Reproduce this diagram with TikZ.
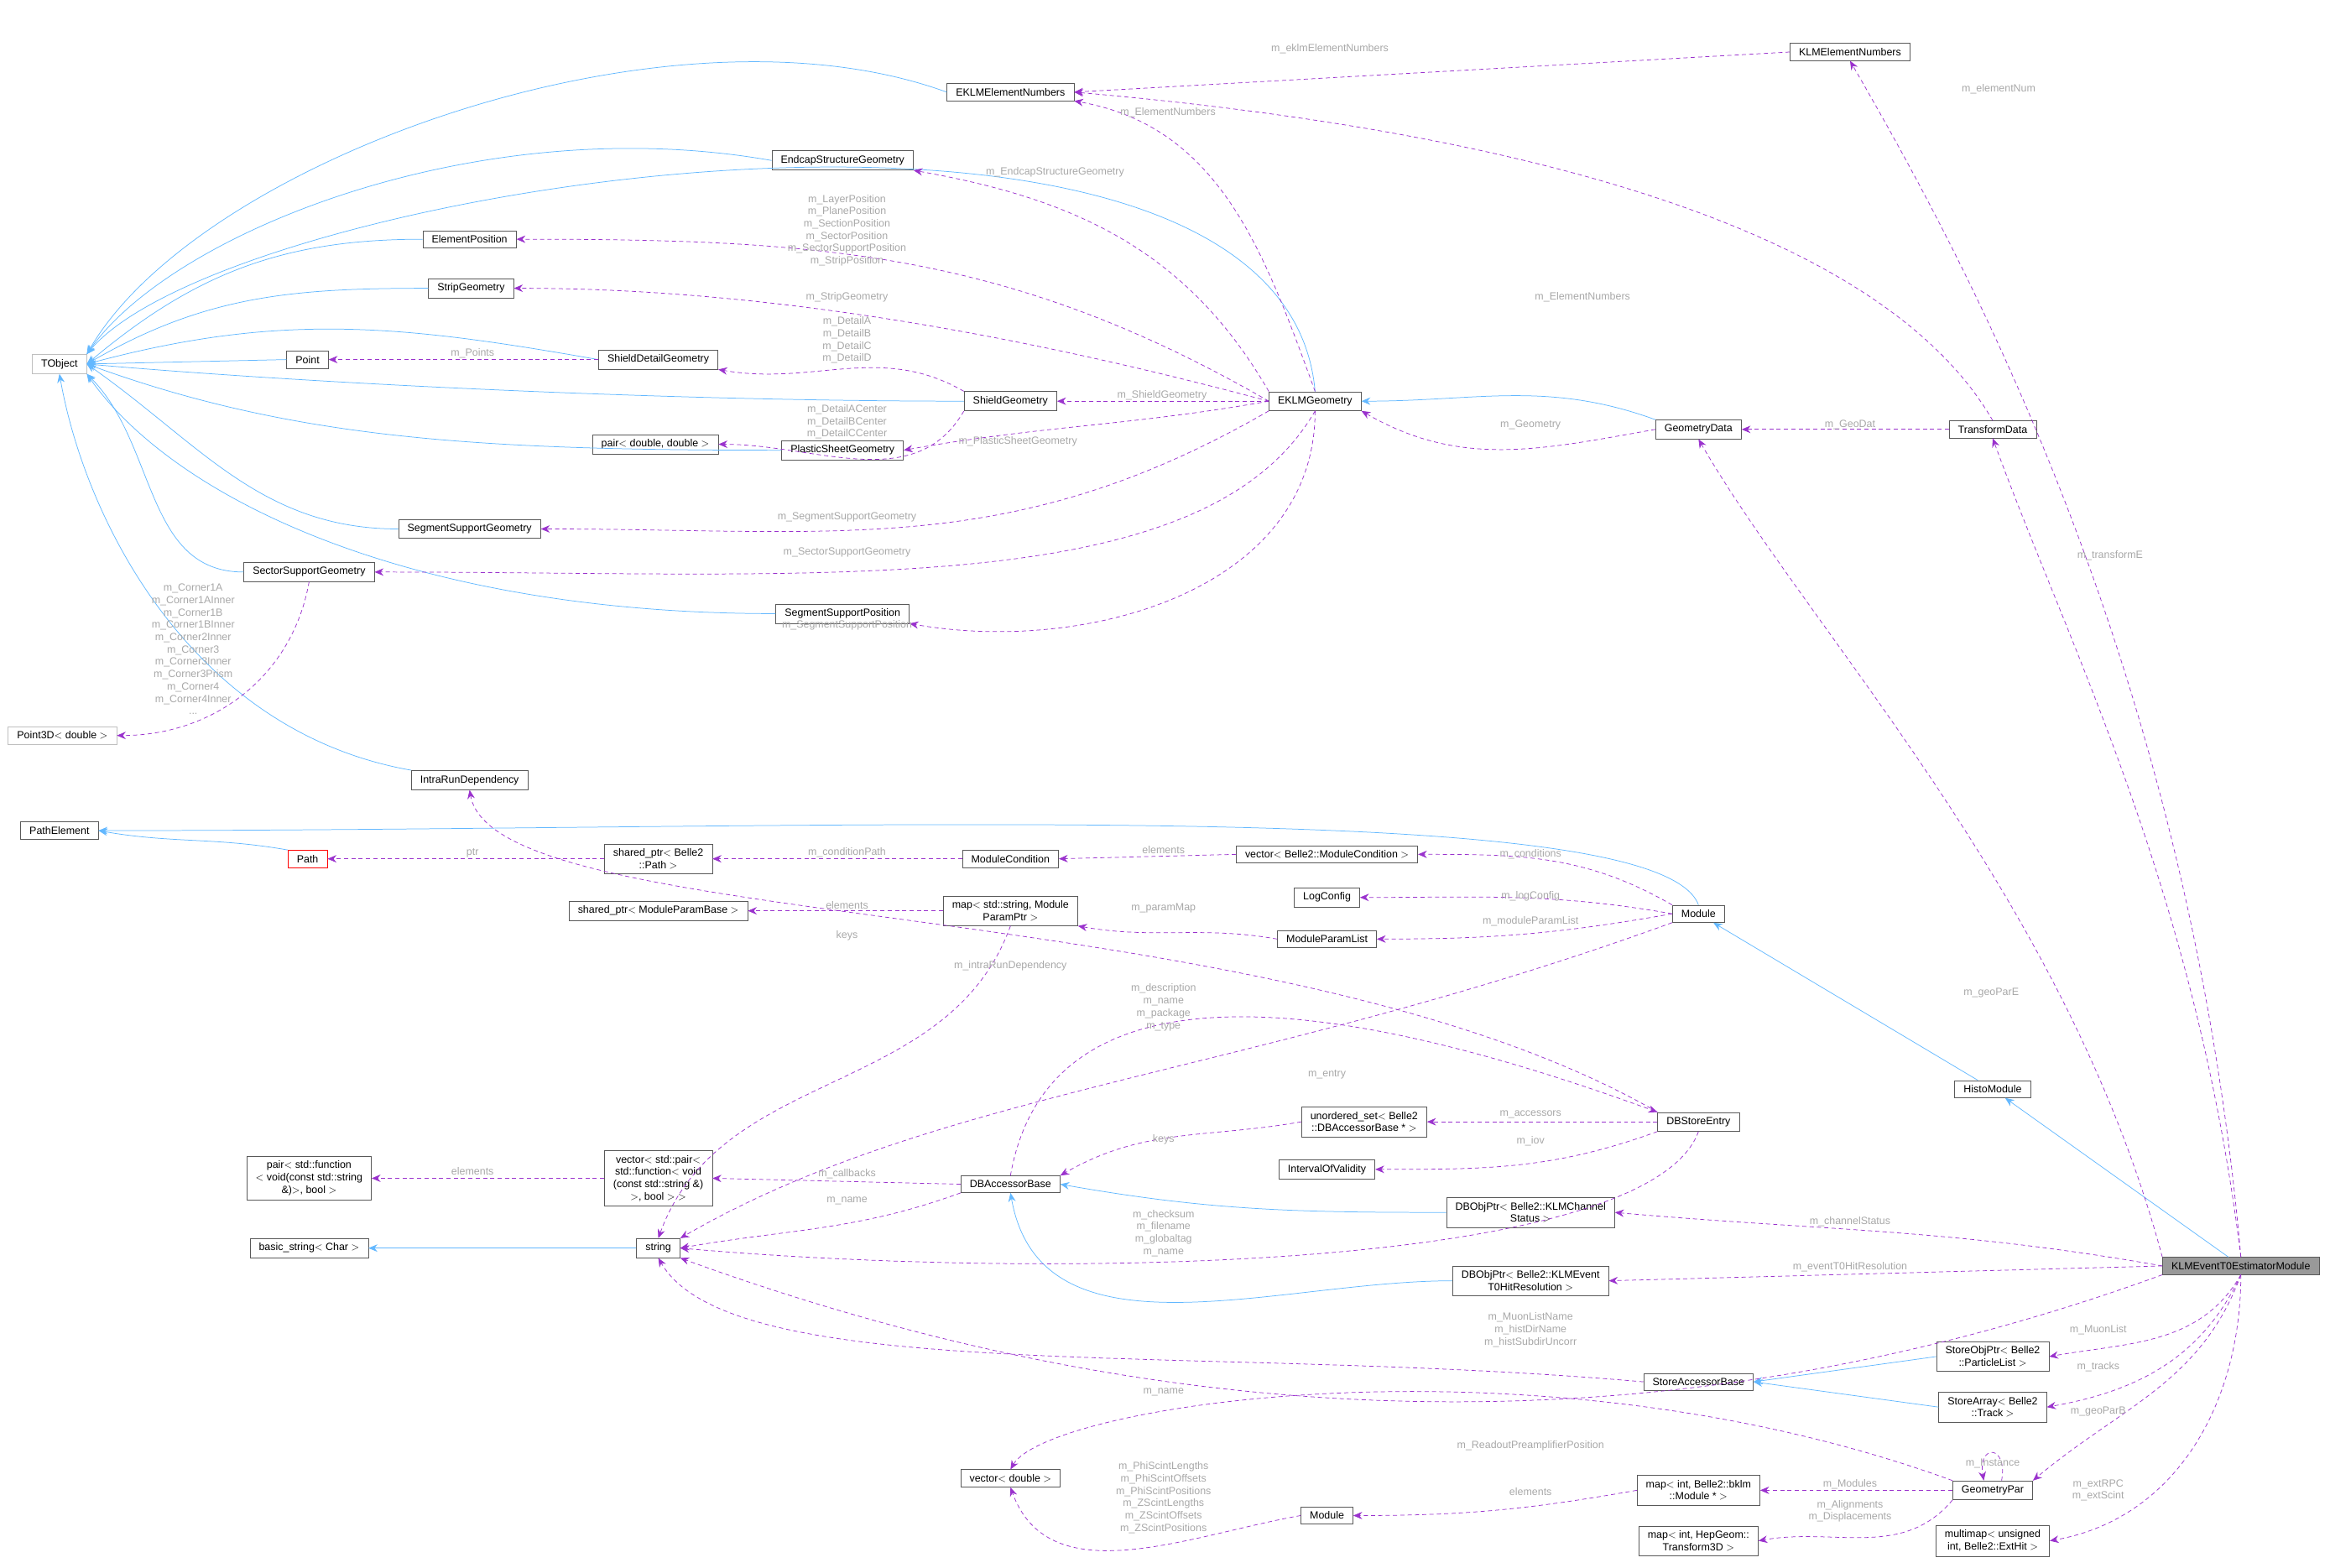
\documentclass[tikz,border=0pt]{standalone}
\usepackage{fontspec}
\setmainfont{Liberation Sans}
\usetikzlibrary{arrows.meta}
\definecolor{inhblue}{HTML}{63B8FF}
\definecolor{usdpurple}{HTML}{9A32CD}
\definecolor{lblgray}{HTML}{A8A8A8}
\tikzset{
  cls/.style={draw=black!65, fill=white, line width=0.5pt, inner xsep=0.3cm, inner ysep=0.16cm,
    align=center, font=\fontsize{10}{11.8}\selectfont},
  pale/.style={cls, draw=black!25},
  inh/.style={draw=inhblue, line width=0.6pt, -{Stealth[length=0.3cm,width=0.25cm,fill=inhblue]}},
  usd/.style={draw=usdpurple, line width=0.6pt, dash pattern=on 4pt off 3pt,
    -{Stealth[length=0.3cm,width=0.25cm,fill=usdpurple]}},
  lbl/.style={text=lblgray, align=center, inner sep=0pt, font=\fontsize{10}{11.8}\selectfont},
}
\begin{document}
\begin{tikzpicture}[x=0.05cm,y=0.05cm]
  \useasboundingbox (0,0) rectangle (1568,-1055.3);
  % classes
  \node[pale] (tob) at (40,-245) {TObject};
  \node[cls] (ken) at (1245,-35) {KLMElementNumbers};
  \node[cls] (ekn) at (680,-62) {EKLMElementNumbers};
  \node[cls] (esg) at (567,-108) {EndcapStructureGeometry};
  \node[cls] (elp) at (316,-161) {ElementPosition};
  \node[cls] (stg) at (317,-194) {StripGeometry};
  \node[cls] (pnt) at (207,-242) {Point};
  \node[cls] (sdg) at (443,-242) {ShieldDetailGeometry};
  \node[cls] (shg) at (680,-270) {ShieldGeometry};
  \node[cls] (ekg) at (885,-270) {EKLMGeometry};
  \node[cls] (par) at (441,-299) {pair$<$ double, double $>$};
  \node[cls] (psg) at (567,-303) {PlasticSheetGeometry};
  \node[cls] (ssg) at (316,-356) {SegmentSupportGeometry};
  \node[cls] (scg) at (208,-385) {SectorSupportGeometry};
  \node[cls] (ssp) at (567,-413) {SegmentSupportPosition};
  \node[cls] (gdt) at (1143,-289) {GeometryData};
  \node[cls] (tdt) at (1341,-289) {TransformData};
  \node[pale] (p3d) at (42,-495) {Point3D$<$ double $>$};
  \node[cls] (ird) at (316,-525) {IntraRunDependency};
  \node[cls] (pel) at (40,-559) {PathElement};
  \node[cls, draw=red] (pth) at (207,-578) {Path};
  \node[cls] (spp) at (443,-578) {shared\_ptr$<$ Belle2\\::Path $>$};
  \node[cls] (mcn) at (680,-578) {ModuleCondition};
  \node[cls] (vmc) at (893,-575) {vector$<$ Belle2::ModuleCondition $>$};
  \node[cls] (lcf) at (893,-604) {LogConfig};
  \node[cls] (spb) at (443,-613) {shared\_ptr$<$ ModuleParamBase $>$};
  \node[cls] (mpp) at (680,-613) {map$<$ std::string, Module\\ParamPtr $>$};
  \node[cls] (mod) at (1143,-615) {Module};
  \node[cls] (mpl) at (893,-632) {ModuleParamList};
  \node[cls] (hmo) at (1341,-733) {HistoModule};
  \node[cls] (uos) at (918,-755) {unordered\_set$<$ Belle2\\::DBAccessorBase * $>$};
  \node[cls] (dse) at (1143,-755) {DBStoreEntry};
  \node[cls] (iov) at (893,-787) {IntervalOfValidity};
  \node[cls] (pfn) at (208,-793) {pair$<$ std::function\\$<$ void(const std::string\\\&)$>$, bool $>$};
  \node[cls] (vpf) at (443,-793) {vector$<$ std::pair$<$\\std::function$<$ void\\(const std::string \&)\\$>$, bool $>$ $>$};
  \node[cls] (dab) at (680,-797) {DBAccessorBase};
  \node[cls] (dcs) at (1030,-816) {DBObjPtr$<$ Belle2::KLMChannel\\Status $>$};
  \node[cls] (bst) at (208,-840) {basic\_string$<$ Char $>$};
  \node[cls] (str) at (443,-840) {string};
  \node[cls, fill=black!40] (klm) at (1508,-852) {KLMEventT0EstimatorModule};
  \node[cls] (dtr) at (1030,-862) {DBObjPtr$<$ Belle2::KLMEvent\\T0HitResolution $>$};
  \node[cls] (sop) at (1341,-913) {StoreObjPtr$<$ Belle2\\::ParticleList $>$};
  \node[cls] (sab) at (1143,-930) {StoreAccessorBase};
  \node[cls] (sar) at (1341,-947) {StoreArray$<$ Belle2\\::Track $>$};
  \node[cls] (vdb) at (680,-995) {vector$<$ double $>$};
  \node[cls] (gpr) at (1341,-1003) {GeometryPar};
  \node[cls] (mbk) at (1143,-1003) {map$<$ int, Belle2::bklm\\::Module * $>$};
  \node[cls] (bmd) at (893,-1020) {Module};
  \node[cls] (mtr) at (1143,-1037) {map$<$ int, HepGeom::\\Transform3D $>$};
  \node[cls] (mmp) at (1341,-1037) {multimap$<$ unsigned\\int, Belle2::ExtHit $>$};
  % inheritance
  \draw[inh] (ekn.west) .. controls +(160:200) and +(60:150) .. (tob.north east);
  \draw[inh] (esg.west) .. controls +(170:200) and +(55:100) .. (tob.north east);
  \draw[inh] (ekg.north) .. controls +(95:250) and +(50:150) .. (tob.north east);
  \draw[inh] (elp.west) to[out=180,in=40] (tob.east);
  \draw[inh] (stg.west) to[out=180,in=30] (tob.east);
  \draw[inh] (sdg.west) to[out=170,in=15] (tob.east);
  \draw[inh] (pnt.west) -- (tob.east);
  \draw[inh] (shg.west) .. controls +(180:200) and +(-5:150) .. (tob.east);
  \draw[inh] (psg.west) .. controls +(180:200) and +(-20:150) .. (tob.east);
  \draw[inh] (ssg.west) to[out=180,in=-35] (tob.east);
  \draw[inh] (scg.west) to[out=180,in=-45] (tob.south east);
  \draw[inh] (ssp.west) .. controls +(180:250) and +(-55:100) .. (tob.south east);
  \draw[inh] (ird.north west) .. controls +(170:150) and +(-80:100) .. (tob.south);
  \draw[inh] (gdt.north west) to[out=160,in=0] (ekg.east);
  \draw[inh] (mod.north) .. controls +(110:80) and +(0:500) .. (pel.east);
  \draw[inh] (pth.north west) to[out=170,in=-10] (pel.east);
  \draw[inh] (hmo) -- (mod);
  \draw[inh] (klm) -- (hmo);
  \draw[inh] (dcs.west) to[out=180,in=-10] (dab.east);
  \draw[inh] (dtr.west) to[out=180,in=-80] (dab.south);
  \draw[inh] (str) -- (bst);
  \draw[inh] (sop.west) -- (sab.east);
  \draw[inh] (sar.west) -- (sab.east);
  % usage
  \draw[usd] (ken.west) -- (ekn.east);
  \draw[usd] (ekg.north) to[out=110,in=-10] (ekn.south east);
  \draw[usd] (tdt.north) .. controls +(120:150) and +(-5:300) .. (ekn.east);
  \draw[usd] (ekg.north west) to[out=120,in=-10] (esg.south east);
  \draw[usd] (ekg.west) to[out=150,in=0] (elp.east);
  \draw[usd] (ekg.west) .. controls +(165:200) and +(0:150) .. (stg.east);
  \draw[usd] (sdg.west) -- (pnt.east);
  \draw[usd] (shg.north west) to[out=150,in=-10] (sdg.south east);
  \draw[usd] (ekg.west) -- (shg.east);
  \draw[usd] (shg.south west) to[out=-120,in=0] (par.east);
  \draw[usd] (ekg.west) to[out=-170,in=10] (psg.east);
  \draw[usd] (ekg.south west) .. controls +(-150:200) and +(0:200) .. (ssg.east);
  \draw[usd] (ekg.south) .. controls +(-120:150) and +(0:300) .. (scg.east);
  \draw[usd] (ekg.south) to[out=-90,in=-10] (ssp.south east);
  \draw[usd] (gdt.west) to[out=-170,in=-30] (ekg.south east);
  \draw[usd] (tdt.west) -- (gdt.east);
  \draw[usd] (scg.south) to[out=-100,in=0] (p3d.east);
  \draw[usd] (klm.north) .. controls +(95:400) and +(-60:150) .. (ken.south);
  \draw[usd] (klm.north) .. controls +(97:250) and +(-70:150) .. (tdt.south);
  \draw[usd] (klm.north west) .. controls +(105:250) and +(-60:150) .. (gdt.south);
  \draw[usd] (spp.west) -- (pth.east);
  \draw[usd] (mcn.west) -- (spp.east);
  \draw[usd] (vmc.west) -- (mcn.east);
  \draw[usd] (mod.north west) to[out=150,in=0] (vmc.east);
  \draw[usd] (mod.west) to[out=170,in=0] (lcf.east);
  \draw[usd] (mod.west) to[out=190,in=0] (mpl.east);
  \draw[usd] (mpl.west) to[out=170,in=-10] (mpp.south east);
  \draw[usd] (mpp.west) -- (spb.east);
  \draw[usd] (mpp.south) to[out=-110,in=70] (str.north);
  \draw[usd] (mod.south west) .. controls +(-160:300) and +(30:200) .. (str.north east);
  \draw[usd] (dse.north west) .. controls +(150:300) and +(-80:100) .. (ird.south);
  \draw[usd] (dab.north) to[out=80,in=160] (dse.north west);
  \draw[usd] (dse.west) -- (uos.east);
  \draw[usd] (uos.west) to[out=-170,in=30] (dab.north east);
  \draw[usd] (dse.south west) to[out=-160,in=0] (iov.east);
  \draw[usd] (dse.south) .. controls +(-110:100) and +(-5:250) .. (str.east);
  \draw[usd] (dab.west) -- (vpf.east);
  \draw[usd] (dab.south west) to[out=-160,in=10] (str.east);
  \draw[usd] (vpf.west) -- (pfn.east);
  \draw[usd] (klm.west) to[out=170,in=-5] (dcs.east);
  \draw[usd] (klm.west) -- (dtr.east);
  \draw[usd] (klm.south west) .. controls +(-160:400) and +(-20:300) .. (str.south east);
  \draw[usd] (sab.west) .. controls +(175:300) and +(-60:100) .. (str.south);
  \draw[usd] (klm.south) to[out=-120,in=10] (sop.east);
  \draw[usd] (klm.south) to[out=-115,in=10] (sar.east);
  \draw[usd] (klm.south) to[out=-110,in=40] (gpr.north east);
  \draw[usd] (klm.south) to[out=-90,in=10] (mmp.east);
  \draw[usd] ([xshift=0.3cm]gpr.north) .. controls +(80:25) and +(100:25) .. ([xshift=-0.3cm]gpr.north);
  \draw[usd] (gpr.north west) .. controls +(160:300) and +(60:50) .. (vdb.north);
  \draw[usd] (gpr.west) -- (mbk.east);
  \draw[usd] (gpr.south west) to[out=-130,in=10] (mtr.east);
  \draw[usd] (mbk.west) to[out=190,in=0] (bmd.east);
  \draw[usd] (bmd.west) to[out=190,in=-70] (vdb.south);
  % labels
  \node[lbl] (l01) at (895,-33) {m\_eklmElementNumbers};
  \node[lbl] (l02) at (1345,-60) {m\_elementNum};
  \node[lbl] (l03) at (786,-76) {m\_ElementNumbers};
  \node[lbl] (l04) at (1065,-200) {m\_ElementNumbers};
  \node[lbl] (l05) at (710,-116) {m\_EndcapStructureGeometry};
  \node[lbl] (l06) at (570,-155) {m\_LayerPosition\\m\_PlanePosition\\m\_SectionPosition\\m\_SectorPosition\\m\_SectorSupportPosition\\m\_StripPosition};
  \node[lbl] (l07) at (570,-200) {m\_StripGeometry};
  \node[lbl] (l08) at (318,-238) {m\_Points};
  \node[lbl] (l09) at (570,-229) {m\_DetailA\\m\_DetailB\\m\_DetailC\\m\_DetailD};
  \node[lbl] (l10) at (782,-266) {m\_ShieldGeometry};
  \node[lbl] (l11) at (570,-284) {m\_DetailACenter\\m\_DetailBCenter\\m\_DetailCCenter};
  \node[lbl] (l12) at (685,-297) {m\_PlasticSheetGeometry};
  \node[lbl] (l13) at (570,-348) {m\_SegmentSupportGeometry};
  \node[lbl] (l14) at (570,-372) {m\_SectorSupportGeometry};
  \node[lbl] (l15) at (570,-421) {m\_SegmentSupportPosition};
  \node[lbl] (l16) at (1030,-286) {m\_Geometry};
  \node[lbl] (l17) at (1245,-286) {m\_GeoDat};
  \node[lbl] (l18) at (1420,-374) {m\_transformE};
  \node[lbl] (l19) at (1340,-668) {m\_geoParE};
  \node[lbl] (l20) at (130,-437) {m\_Corner1A\\m\_Corner1AInner\\m\_Corner1B\\m\_Corner1BInner\\m\_Corner2Inner\\m\_Corner3\\m\_Corner3Inner\\m\_Corner3Prism\\m\_Corner4\\m\_Corner4Inner\\...};
  \node[lbl] (l21) at (318,-574) {ptr};
  \node[lbl] (l22) at (570,-574) {m\_conditionPath};
  \node[lbl] (l23) at (783,-572) {elements};
  \node[lbl] (l24) at (1030,-575) {m\_conditions};
  \node[lbl] (l25) at (1030,-603) {m\_logConfig};
  \node[lbl] (l26) at (1030,-620) {m\_moduleParamList};
  \node[lbl] (l27) at (783,-611) {m\_paramMap};
  \node[lbl] (l28) at (570,-609) {elements};
  \node[lbl] (l29) at (570,-630) {keys};
  \node[lbl] (l30) at (680,-650) {m\_intraRunDependency};
  \node[lbl] (l31) at (783,-678) {m\_description\\m\_name\\m\_package\\m\_type};
  \node[lbl] (l32) at (893,-723) {m\_entry};
  \node[lbl] (l33) at (1030,-750) {m\_accessors};
  \node[lbl] (l34) at (783,-767) {keys};
  \node[lbl] (l35) at (1030,-768) {m\_iov};
  \node[lbl] (l36) at (318,-788) {elements};
  \node[lbl] (l37) at (570,-790) {m\_callbacks};
  \node[lbl] (l38) at (570,-808) {m\_name};
  \node[lbl] (l39) at (783,-830) {m\_checksum\\m\_filename\\m\_globaltag\\m\_name};
  \node[lbl] (l40) at (1245,-822) {m\_channelStatus};
  \node[lbl] (l41) at (1245,-853) {m\_eventT0HitResolution};
  \node[lbl] (l42) at (1030,-895) {m\_MuonListName\\m\_histDirName\\m\_histSubdirUncorr};
  \node[lbl] (l43) at (1412,-895) {m\_MuonList};
  \node[lbl] (l44) at (1412,-920) {m\_tracks};
  \node[lbl] (l45) at (1412,-950) {m\_geoParB};
  \node[lbl] (l46) at (783,-937) {m\_name};
  \node[lbl] (l47) at (1341,-985) {m\_Instance};
  \node[lbl] (l48) at (1030,-973) {m\_ReadoutPreamplifierPosition};
  \node[lbl] (l49) at (783,-1008) {m\_PhiScintLengths\\m\_PhiScintOffsets\\m\_PhiScintPositions\\m\_ZScintLengths\\m\_ZScintOffsets\\m\_ZScintPositions};
  \node[lbl] (l50) at (1030,-1004) {elements};
  \node[lbl] (l51) at (1245,-999) {m\_Modules};
  \node[lbl] (l52) at (1245,-1017) {m\_Alignments\\m\_Displacements};
  \node[lbl] (l53) at (1412,-1003) {m\_extRPC\\m\_extScint};
\end{tikzpicture}
\end{document}
